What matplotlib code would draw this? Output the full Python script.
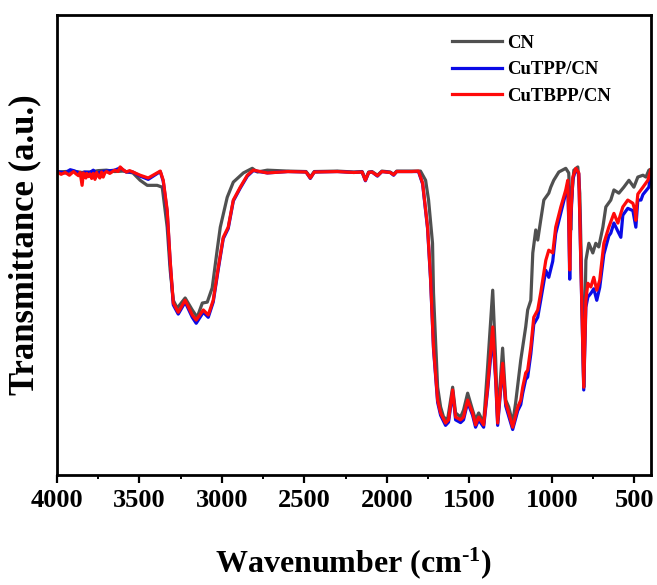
import matplotlib
matplotlib.use("Agg")
import matplotlib.pyplot as plt
from matplotlib.ticker import MultipleLocator, NullLocator

plt.rcParams['font.family'] = ['Liberation Serif', 'DejaVu Serif']
plt.rcParams['font.weight'] = 'bold'
plt.rcParams['mathtext.fontset'] = 'custom'
plt.rcParams['mathtext.rm'] = 'Liberation Serif:bold'
plt.rcParams['mathtext.bf'] = 'Liberation Serif:bold'
plt.rcParams['mathtext.it'] = 'Liberation Serif:bold'

# ---- data (wavenumber, transmittance a.u.) ----
cn_wn = [4000, 3950, 3900, 3850, 3800, 3750, 3700, 3650, 3600, 3540, 3496, 3453, 3393, 3362, 3332, 3314, 3295, 3271,
         3223, 3180, 3150, 3119, 3089, 3059, 3029, 3010, 2968, 2931, 2870, 2816, 2785, 2725,
         2600, 2490, 2464, 2440, 2300, 2200, 2150, 2130, 2110, 2090, 2057, 2030, 1980, 1959,
         1940, 1850, 1796, 1765, 1747, 1723, 1717, 1704, 1692, 1674, 1656, 1632, 1601, 1583,
         1553, 1535, 1510, 1480, 1462, 1443, 1413, 1389, 1358, 1340, 1328, 1298, 1279, 1261,
         1237, 1219, 1188, 1158, 1146, 1127, 1115, 1097, 1085, 1067, 1048, 1018, 1006, 988,
         957, 915, 897, 888, 885, 880, 866, 842, 830, 812, 806, 793, 775, 751, 733, 715, 690,
         672, 642, 623, 593, 563, 532, 502, 478, 447, 429, 411, 400]
cn_t = [65.9, 66.0, 66.1, 65.8, 65.9, 66.2, 66.3, 66.0, 66.1, 65.7, 64.1, 63.0, 63.0, 62.6, 53.9, 44.6, 38.0, 36.3,
        38.5, 35.9, 34.3, 37.4, 37.6, 40.7, 48.9, 53.9, 60.4, 63.7, 65.7, 66.7, 65.9, 66.3,
        66.1, 66.0, 64.8, 66.0, 66.1, 65.9, 66.0, 64.3, 65.9, 66.0, 65.2, 66.1, 65.9, 65.4,
        66.1, 66.1, 66.1, 64.1, 59.8, 50.4, 39.6, 28.7, 19.1, 14.8, 12.6, 12.0, 19.1, 13.5,
        12.6, 14.1, 17.8, 14.1, 12.0, 13.5, 11.3, 23.5, 40.2, 25.0, 12.0, 27.6, 16.3, 14.8,
        11.3, 15.7, 25.0, 32.2, 35.9, 38.0, 48.3, 53.3, 51.1, 55.4, 59.8, 61.3, 62.6, 64.1,
        65.9, 66.7, 65.7, 58.0, 53.3, 60.0, 66.3, 67.0, 61.3, 32.2, 19.1, 46.7, 50.4, 48.3,
        50.4, 49.6, 53.9, 58.3, 59.8, 62.0, 61.3, 62.6, 64.1, 62.6, 64.8, 65.2, 64.8, 66.3, 66.5]

cutpp_wn = [4000, 3950, 3920, 3900, 3860, 3848, 3835, 3800, 3780, 3760, 3730, 3700, 3650, 3617, 3580, 3540,
            3496, 3447, 3374, 3356, 3332, 3314, 3295, 3265, 3223, 3180, 3156, 3113, 3083,
            3053, 3022, 2992, 2962, 2931, 2889, 2846, 2810, 2725, 2600, 2490, 2464, 2440,
            2300, 2200, 2150, 2130, 2110, 2090, 2057, 2030, 1980, 1959, 1940, 1850, 1808,
            1783, 1753, 1735, 1717, 1692, 1674, 1644, 1626, 1601, 1583, 1553, 1535, 1510,
            1480, 1462, 1443, 1413, 1389, 1358, 1340, 1328, 1298, 1279, 1261, 1237, 1206,
            1188, 1176, 1158, 1146, 1127, 1109, 1085, 1067, 1036, 1018, 994, 976, 945, 915,
            903, 897, 891, 885, 872, 854, 836, 824, 806, 793, 781, 763, 745, 727, 709, 684,
            654, 642, 623, 599, 581, 569, 539, 508, 490, 478, 459, 447, 411, 400]
cutpp_t = [66.0, 65.7, 66.4, 66.2, 65.6, 65.0, 65.9, 65.8, 66.3, 65.5, 66.0, 66.1, 66.3, 66.8, 65.9, 65.9,
           65.0, 64.3, 66.0, 63.9, 57.2, 46.4, 37.0, 35.0, 37.6, 34.3, 33.0, 35.4, 34.3,
           37.6, 44.8, 51.4, 53.6, 59.6, 62.4, 65.0, 66.2, 65.7, 66.0, 65.9, 64.5, 65.9,
           66.0, 65.8, 65.9, 64.0, 65.8, 65.9, 65.0, 66.0, 65.8, 65.2, 66.0, 66.0, 66.0,
           63.3, 53.6, 42.6, 27.4, 15.8, 13.0, 10.8, 11.5, 18.0, 12.0, 11.4, 12.0, 15.8,
           13.0, 10.4, 12.0, 10.4, 18.4, 30.5, 20.5, 10.8, 23.5, 15.0, 12.8, 9.9, 14.0,
           15.3, 17.8, 20.8, 21.3, 26.3, 32.8, 34.3, 38.0, 44.5, 43.0, 46.5, 52.5, 57.0, 61.3,
           63.2, 55.0, 42.6, 55.0, 64.3, 66.5, 65.5, 46.5, 18.5, 36.5, 38.7, 39.5, 40.5, 38.0,
           40.8, 48.0, 52.0, 52.6, 54.8, 53.0, 51.7, 56.5, 58.0, 57.5, 53.9, 59.8, 59.8, 61.0,
           62.6, 65.5]

cutbpp_wn = [4000, 3975, 3950, 3925, 3900, 3885, 3870, 3860, 3848, 3840, 3825, 3820, 3810,
             3800, 3790, 3780, 3770, 3760, 3750, 3740, 3730, 3720, 3710, 3700, 3680, 3650,
             3630, 3617, 3600, 3580, 3560, 3540, 3496, 3447, 3374, 3356, 3332, 3314, 3295,
             3265, 3223, 3180, 3156, 3113, 3083, 3053, 3022, 2992, 2962, 2931, 2889, 2846,
             2810, 2725, 2600, 2490, 2464, 2440, 2300, 2200, 2150, 2130, 2110, 2090, 2057,
             2030, 1980, 1959, 1940, 1850, 1808, 1783, 1753, 1735, 1717, 1692, 1674, 1644,
             1626, 1601, 1583, 1553, 1535, 1510, 1480, 1462, 1443, 1413, 1389, 1358, 1340,
             1328, 1298, 1279, 1261, 1237, 1206, 1188, 1176, 1158, 1146, 1127, 1109, 1085,
             1067, 1036, 1018, 994, 976, 945, 915, 903, 897, 891, 885, 872, 854, 836, 824,
             806, 793, 781, 763, 745, 727, 709, 684, 654, 623, 599, 569, 539, 508, 495, 490,
             485, 478, 447, 417, 400]
cutbpp_t = [65.9, 65.4, 65.8, 65.2, 66.0, 65.5, 65.1, 65.8, 63.0, 65.7, 64.6, 65.6, 64.9,
            65.5, 64.5, 65.6, 64.3, 65.8, 65.0, 64.6, 65.9, 64.8, 65.7, 66.0, 65.6, 66.3,
            66.0, 67.0, 66.4, 65.9, 66.2, 65.9, 65.2, 64.6, 66.1, 64.1, 57.6, 46.7, 37.4,
            35.4, 38.0, 34.8, 33.7, 35.9, 34.8, 38.0, 45.2, 51.7, 53.9, 59.8, 62.6, 65.2,
            66.3, 65.7, 66.0, 65.9, 64.6, 65.9, 66.0, 65.8, 65.9, 64.1, 65.8, 65.9, 65.1,
            66.0, 65.8, 65.3, 66.0, 66.0, 66.1, 63.5, 53.9, 43.0, 27.8, 16.3, 13.5, 11.3,
            12.0, 18.5, 12.6, 12.0, 12.6, 16.3, 13.5, 10.9, 12.6, 10.9, 19.1, 32.2, 21.3,
            11.3, 24.3, 15.7, 13.5, 10.4, 14.8, 16.3, 19.1, 22.2, 22.8, 27.8, 34.3, 35.9,
            39.6, 46.7, 48.9, 48.3, 53.9, 58.3, 62.0, 64.1, 56.0, 44.6, 56.0, 64.8, 66.7,
            65.7, 46.7, 19.1, 38.0, 41.7, 40.9, 43.0, 40.2, 42.4, 50.4, 53.9, 56.9, 54.8,
            58.3, 59.8, 59.1, 57.5, 55.4, 58.5, 61.1, 62.6, 64.1, 66.3]

labels = ['CN', 'CuTPP/CN', 'CuTBPP/CN']
colors = ['#505050', '#0a0ae6', '#ff0a0a']

fig = plt.figure(figsize=(6.57, 5.85), dpi=100)
ax = fig.add_axes([0.0868, 0.188, 0.9036, 0.786])

ax.plot(cn_wn, cn_t, color=colors[0], lw=2.3, label=labels[0])
ax.plot(cutpp_wn, cutpp_t, color=colors[1], lw=2.3, label=labels[1])
ax.plot(cutbpp_wn, cutbpp_t, color=colors[2], lw=2.3, label=labels[2])

ax.set_xlim(4000, 400)
ax.set_ylim(0, 100)
ax.xaxis.set_major_locator(MultipleLocator(500))
ax.xaxis.set_minor_locator(MultipleLocator(250))
ax.yaxis.set_major_locator(NullLocator())
ax.tick_params(axis='x', which='major', direction='out', length=6, width=1.6,
               labelsize=19, pad=4)
ax.tick_params(axis='x', which='minor', direction='out', length=3, width=1.4)
for lab in ax.get_xticklabels():
    lab.set_fontweight('bold')
for sp in ax.spines.values():
    sp.set_linewidth(2.0)

ax.set_xlabel(r'Wavenumber (cm$^{\text{-}1}$)', fontsize=23, fontweight='bold', labelpad=24)
ax.set_ylabel('Transmittance (a.u.)', fontsize=25, fontweight='bold', labelpad=11)

leg = ax.legend(loc='upper left', bbox_to_anchor=(0.665, 0.958), frameon=False,
                prop={'family': 'Liberation Serif', 'weight': 'bold', 'size': 13.5},
                handlelength=2.7, handletextpad=0.25, labelspacing=0.5, borderpad=0,
                borderaxespad=0)

fig.savefig('out.png', dpi=100)
